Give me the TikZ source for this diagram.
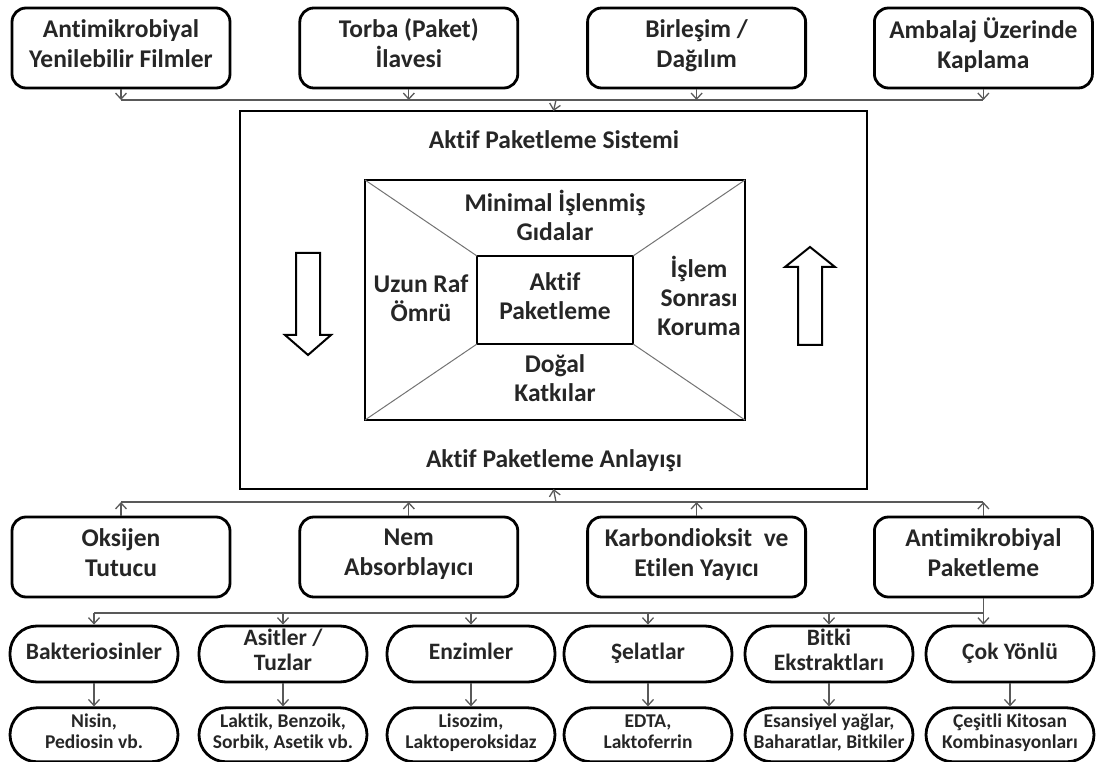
\documentclass[tikz,border=0pt]{standalone}
\usepackage{fontspec}
\setmainfont{Carlito}[Ligatures=NoCommon]
\usetikzlibrary{positioning,arrows.meta}

\begin{document}
\begin{tikzpicture}[x=1pt,y=-1pt,
    every node/.style={align=center, text=black!85},
    dik/.style={execute at begin node=\strut,
      execute at end node={\rule[-0.14\baselineskip]{0pt}{0pt}}},
    kutu/.style={draw, dik, line width=2.8pt, rounded corners=14pt, minimum width=218pt,
      minimum height=80pt, inner sep=0pt, font=\bfseries\fontsize{25.5}{30}\selectfont},
    hap/.style={draw, dik, line width=2.8pt, rounded corners=27pt, minimum width=168pt,
      minimum height=56pt, inner sep=0pt, font=\bfseries\fontsize{23.5}{25}\selectfont},
    ornek/.style={hap, minimum height=54pt, font=\bfseries\fontsize{19.5}{21}\selectfont},
    yazi/.style={dik, font=\bfseries\fontsize{25.5}{29}\selectfont},
    bag/.style={draw=black!65, line width=1.3pt},
    ok/.style={bag, -{Straight Barb[length=6pt,width=11pt]}},
    kalin/.style={draw, line width=2.8pt, inner sep=0pt, outer sep=0pt},
    ince/.style={draw=black!55, line width=1pt},
    bosok/.style={draw, line width=2pt, fill=white, line join=miter}]
  \useasboundingbox (0,0) rectangle (1096,762);

  % ust sira
  \node[kutu] (a1) at (121,48) {Antimikrobiyal\\Yenilebilir Filmler};
  \node[kutu, right=67pt of a1] (a2) {Torba (Paket)\\İlavesi};
  \node[kutu, right=67pt of a2] (a3) {Birleşim /\\Dağılım};
  \node[kutu, right=66pt of a3] (a4) {Ambalaj Üzerinde\\Kaplama};

  % ana kutu
  \node[kalin, minimum width=627pt, minimum height=378pt] (ana) at (553.5,300) {};
  \node[yazi] (sistem) at (554,143) {Aktif Paketleme Sistemi};
  \node[yazi] (anlayis) at (554,462) {Aktif Paketleme Anlayışı};
  \node[kalin, minimum width=380pt, minimum height=240pt] (ic) at (555,300) {};
  \node[kalin, yazi, minimum width=156pt, minimum height=88pt] (merkez) at (555,300) {Aktif\\Paketleme};
  \draw[ince] (ic.north west) -- (merkez.north west);
  \draw[ince] (ic.north east) -- (merkez.north east);
  \draw[ince] (ic.south west) -- (merkez.south west);
  \draw[ince] (ic.south east) -- (merkez.south east);
  \node[yazi] (gida) at (555,220) {Minimal İşlenmiş\\Gıdalar};
  \node[yazi] (raf) at (421,302) {Uzun Raf\\Ömrü};
  \node[yazi] (koruma) at (699,300) {İşlem\\Sonrası\\Koruma};
  \node[yazi] (katki) at (555,382) {Doğal\\Katkılar};

  % bos oklar
  \draw[bosok] (296,253) -- (320,253) -- (320,335) -- (331,335) -- (308,355)
    -- (285,335) -- (296,335) -- cycle;
  \draw[bosok] (798,345) -- (822,345) -- (822,267) -- (835,267) -- (810,247)
    -- (785,267) -- (798,267) -- cycle;

  % orta sira
  \node[kutu] (b1) at (121,557) {Oksijen\\Tutucu};
  \node[kutu, right=67pt of b1] (b2) {Nem\\Absorblayıcı};
  \node[kutu, right=67pt of b2] (b3) {Karbondioksit\ \ ve\\Etilen Yayıcı};
  \node[kutu, right=66pt of b3] (b4) {Antimikrobiyal\\Paketleme};

  % alt siralar
  \node[hap] (c1) at (94,654) {Bakteriosinler};
  \node[hap] (c2) at (283,654) {Asitler /\\Tuzlar};
  \node[hap] (c3) at (471,654) {Enzimler};
  \node[hap] (c4) at (648,654) {Şelatlar};
  \node[hap] (c5) at (829,654) {Bitki\\Ekstraktları};
  \node[hap] (c6) at (1010,654) {Çok Yönlü};
  \node[ornek, below=23pt of c1] (d1) {Nisin,\\Pediosin vb.};
  \node[ornek, below=23pt of c2] (d2) {Laktik, Benzoik,\\Sorbik, Asetik vb.};
  \node[ornek, below=23pt of c3] (d3) {Lisozim,\\Laktoperoksidaz};
  \node[ornek, below=23pt of c4] (d4) {EDTA,\\Laktoferrin};
  \node[ornek, below=23pt of c5] (d5) {Esansiyel yağlar,\\Baharatlar, Bitkiler};
  \node[ornek, below=23pt of c6] (d6) {Çeşitli Kitosan\\Kombinasyonları};

  % baglantilar
  \coordinate (ust) at (556,100);
  \draw[bag] (a1.south |- ust) -- (a4.south |- ust);
  \foreach \k in {a1,a2,a3,a4}
    \draw[ok] (\k.south) -- (\k.south |- ust);
  \draw[ok] (ust) -- (ana.north);

  \coordinate (alt) at (556,502);
  \draw[bag] (b1.north |- alt) -- (b4.north |- alt);
  \foreach \k in {b1,b2,b3,b4}
    \draw[ok] (\k.north) -- (\k.north |- alt);
  \draw[ok] (alt) -- (ana.south);

  \coordinate (dal) at (b4.south |- 0,613);
  \draw[bag] (b4.south) -- (dal) -- (c1.north |- dal);
  \foreach \k in {c1,c2,c3,c4,c5}
    \draw[ok] (\k.north |- dal) -- (\k.north);
  \draw[ok] (dal) -- (dal |- c6.north);
  \foreach \i in {1,...,6}
    \draw[ok] (c\i.south) -- (d\i.north);
\end{tikzpicture}
\end{document}
